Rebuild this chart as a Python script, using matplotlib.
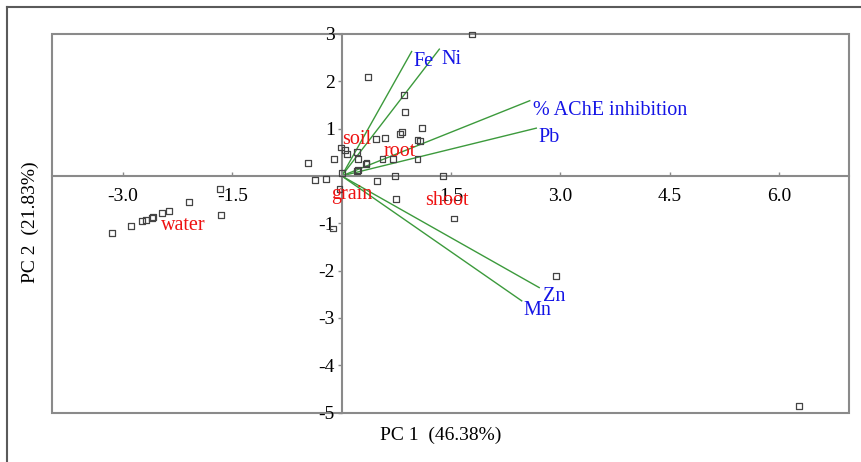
import matplotlib
matplotlib.use("Agg")
import matplotlib.pyplot as plt
from matplotlib.patches import Rectangle
from matplotlib.lines import Line2D

plt.rcParams['font.family'] = ['Liberation Serif', 'DejaVu Serif']

# PCA scores (samples)
score_x = [-3.155, -2.894, -2.743, -2.689, -2.606, -2.584, -2.469, -2.369, -2.099, -1.674, -1.656,
           0.36, 0.85, 0.87, 1.10, 0.83, 0.80, 0.47, 0.60, 1.04, 1.07, -0.01, 0.05, 0.07, 0.21,
           -0.10, 0.23, -0.46, 0.34, 0.33, 0.56, 0.71, 1.04, 0.23, 0.21, 0.00, -0.36, -0.22,
           -0.03, 0.48, 0.73, 0.74, 1.39, 1.54, -0.12, 1.79, 2.94, 6.27]
score_y = [-1.21, -1.06, -0.95, -0.93, -0.88, -0.86, -0.79, -0.74, -0.56, -0.28, -0.83,
           2.09, 1.72, 1.36, 1.01, 0.92, 0.89, 0.79, 0.81, 0.76, 0.74, 0.60, 0.55, 0.46, 0.50,
           0.35, 0.35, 0.28, 0.28, 0.25, 0.35, 0.35, 0.35, 0.12, 0.10, 0.07, -0.09, -0.06,
           -0.28, -0.10, 0.00, -0.48, 0.00, -0.90, -1.11, 2.99, -2.11, -4.86]

# Loadings (variables)
var_names = ['Fe', 'Ni', '% AChE inhibition', 'Pb', 'Zn', 'Mn']
var_x = [0.96, 1.34, 2.58, 2.67, 2.71, 2.47]
var_y = [2.63, 2.68, 1.59, 1.01, -2.36, -2.64]
var_label_x = [0.98, 1.37, 2.62, 2.70, 2.76, 2.50]
var_label_y = [2.41, 2.47, 1.39, 0.81, -2.55, -2.84]

# Group labels
group_names = ['soil', 'root', 'grain', 'shoot', 'water']
group_x = [0.01, 0.58, -0.14, 1.14, -2.48]
group_y = [0.76, 0.51, -0.40, -0.52, -1.04]

x_ticks = [-3.0, -1.5, 1.5, 3.0, 4.5, 6.0]
x_ticklabels = ['-3.0', '-1.5', '1.5', '3.0', '4.5', '6.0']
y_ticks = [3, 2, 1, -1, -2, -3, -4, -5]
y_ticklabels = ['3', '2', '1', '-1', '-2', '-3', '-4', '-5']

W, H = 862, 462
fig = plt.figure(figsize=(W / 100, H / 100), dpi=100)
ax = fig.add_axes([52.3 / W, 1 - 412.5 / H, (849 - 52.3) / W, (412.5 - 34) / H])
ax.set_xlim(-3.97, 6.96)
ax.set_ylim(-5, 3)

gray = '#8a8a8a'
for side in ['top', 'right']:
    ax.spines[side].set_visible(False)
ax.spines['left'].set_position(('data', 0))
ax.spines['bottom'].set_position(('data', 0))
for side in ['left', 'bottom']:
    ax.spines[side].set_color(gray)
    ax.spines[side].set_linewidth(1.5)
ax.add_patch(Rectangle((0, 0), 1, 1, transform=ax.transAxes, fill=False,
                       edgecolor=gray, linewidth=1.5, clip_on=False, zorder=1))

ax.set_xticks(x_ticks)
ax.set_xticklabels(x_ticklabels)
ax.set_yticks(y_ticks)
ax.set_yticklabels(y_ticklabels)
ax.tick_params(axis='x', direction='in', length=3, width=1, color=gray,
               labelsize=14, pad=9)
ax.tick_params(axis='y', direction='out', length=3, width=1, color=gray,
               labelsize=14, pad=2)

# loading lines
for vx, vy in zip(var_x, var_y):
    ax.plot([0, vx], [0, vy], color='#3c9a3c', linewidth=1.0, zorder=2)

ax.scatter(score_x, score_y, marker='s', s=18, facecolors='none',
           edgecolors='#444444', linewidths=0.9, zorder=3, clip_on=False)

for name, lx, ly in zip(var_names, var_label_x, var_label_y):
    ax.text(lx, ly, name, color='#1414e6', fontsize=14.5, ha='left', va='center', zorder=4)
for name, gx, gy in zip(group_names, group_x, group_y):
    ax.text(gx, gy, name, color='#ee1111', fontsize=14.5, ha='left', va='center', zorder=4)

fig.text(441 / W, 1 - 435 / H, 'PC 1  (46.38%)', fontsize=14, ha='center', va='center')
fig.text(30 / W, 1 - 222 / H, 'PC 2  (21.83%)', fontsize=14, ha='center', va='center',
         rotation=90)

# outer frame (top and left edges)
fig.add_artist(Line2D([7 / W, 7 / W], [0, 1 - 7 / H], transform=fig.transFigure,
                      color='#5a5a5a', linewidth=1.5))
fig.add_artist(Line2D([7 / W, 1], [1 - 7 / H, 1 - 7 / H], transform=fig.transFigure,
                      color='#5a5a5a', linewidth=1.5))

fig.savefig('out.png', dpi=100)
